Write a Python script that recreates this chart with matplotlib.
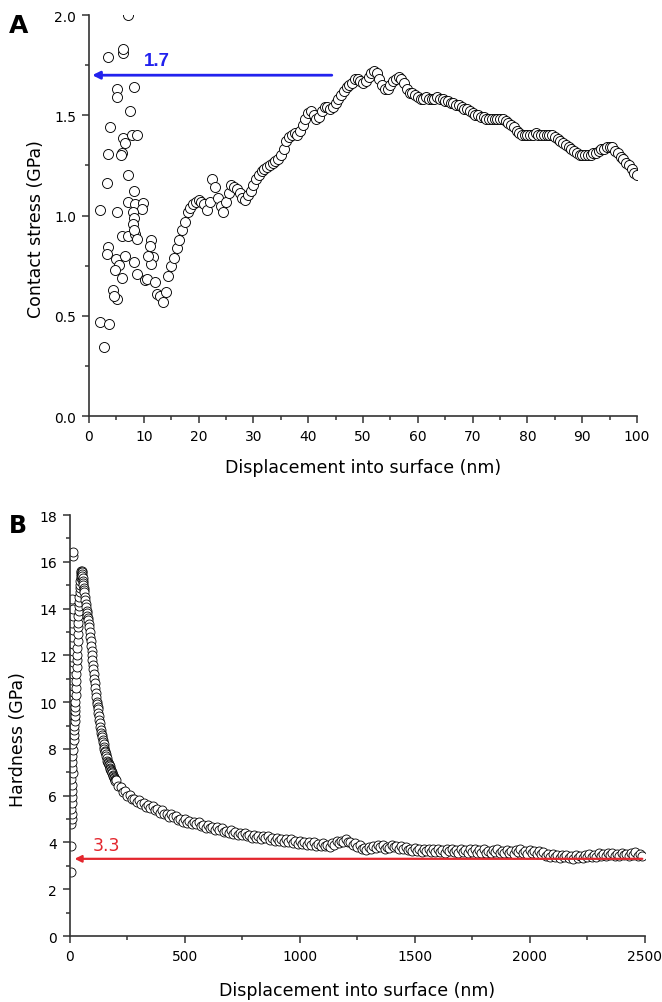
import numpy as np
import matplotlib
matplotlib.use('Agg')
import matplotlib.pyplot as plt
from matplotlib.ticker import MultipleLocator, FormatStrFormatter

plt.rcParams['font.family'] = ['DejaVu Sans']

# ---------------- Panel A data ----------------
# scattered early points (displacement nm, contact stress GPa)
a_scatter_x = [7.2, 3.5, 6.2, 6.2, 5.1, 5.1, 8.2, 7.5, 3.8, 6.2, 6.6, 7.8, 8.7, 3.5, 6.0, 5.9,
               7.2, 3.3, 8.2, 7.2, 8.4, 9.8, 9.6, 2.1, 5.05, 8.0, 8.2, 8.0, 8.2, 6.0, 7.1, 8.4,
               3.5, 3.2, 4.9, 5.4, 6.6, 8.2, 4.7, 6.0, 8.7, 10.2, 11.4, 11.1, 11.7, 11.4, 10.8,
               10.5, 12.0, 12.35, 4.4, 5.05, 4.5, 2.0, 3.7, 2.7, 8.3, 8.7]
a_scatter_y = [2.0, 1.79, 1.81, 1.83, 1.63, 1.59, 1.64, 1.52, 1.44, 1.385, 1.36, 1.40, 1.40, 1.305, 1.31, 1.30,
               1.20, 1.16, 1.12, 1.07, 1.06, 1.065, 1.035, 1.03, 1.02, 1.02, 0.99, 0.96, 0.92, 0.90, 0.90, 0.91,
               0.845, 0.81, 0.785, 0.755, 0.80, 0.77, 0.727, 0.69, 0.71, 0.68, 0.877, 0.85, 0.795, 0.76, 0.80,
               0.685, 0.67, 0.61, 0.627, 0.585, 0.60, 0.467, 0.46, 0.345, 0.93, 0.885]

# main curve, sampled every 0.5 nm from 13 to 100 nm
a_curve_x = np.arange(13.0, 100.01, 0.5)
a_curve_y = [
    0.60, 0.57, 0.62, 0.70, 0.75, 0.79, 0.84, 0.88, 0.93, 0.97,
    1.02, 1.04, 1.06, 1.07, 1.08, 1.07, 1.06, 1.03, 1.07, 1.18,
    1.14, 1.09, 1.05, 1.02, 1.07, 1.11, 1.15, 1.14, 1.13, 1.11,
    1.09, 1.08, 1.10, 1.12, 1.15, 1.18, 1.20, 1.22, 1.23, 1.24,
    1.25, 1.26, 1.27, 1.28, 1.30, 1.33, 1.37, 1.39, 1.40, 1.41,
    1.40, 1.42, 1.45, 1.48, 1.51, 1.52, 1.50, 1.48, 1.49, 1.52,
    1.54, 1.54, 1.53, 1.54, 1.56, 1.58, 1.60, 1.62, 1.64, 1.65,
    1.66, 1.68, 1.68, 1.67, 1.66, 1.67, 1.69, 1.71, 1.72, 1.71,
    1.68, 1.65, 1.63, 1.63, 1.65, 1.67, 1.68, 1.69, 1.68, 1.66,
    1.63, 1.61, 1.61, 1.60, 1.59, 1.58, 1.58, 1.59, 1.58, 1.58,
    1.58, 1.59, 1.58, 1.58, 1.57, 1.57, 1.56, 1.56, 1.55, 1.55,
    1.54, 1.53, 1.53, 1.52, 1.51, 1.50, 1.50, 1.49, 1.49, 1.48,
    1.48, 1.48, 1.48, 1.48, 1.48, 1.48, 1.47, 1.46, 1.45, 1.44,
    1.42, 1.41, 1.40, 1.40, 1.40, 1.40, 1.40, 1.41, 1.40, 1.40,
    1.40, 1.40, 1.40, 1.40, 1.39, 1.38, 1.37, 1.36, 1.35, 1.34,
    1.33, 1.32, 1.31, 1.30, 1.30, 1.30, 1.30, 1.30, 1.31, 1.31,
    1.32, 1.33, 1.33, 1.34, 1.34, 1.34, 1.32, 1.31, 1.29, 1.28,
    1.26, 1.25, 1.23, 1.21, 1.20,
]
a_arrow_value = 1.7
a_arrow_label = "1.7"

# ---------------- Panel B data ----------------
b_col_x = [4, 4, 6, 7, 8, 6, 9, 7, 10, 8, 6, 11, 9, 7, 10, 12, 8, 6, 11, 9, 13,
           7, 10, 12, 8, 14, 11, 9, 13, 10, 12, 8, 14, 11, 9, 13, 10, 12, 11, 10, 12, 12]
b_col_y = [2.75, 3.85, 4.8, 5.0, 5.2, 5.45, 5.7, 5.95, 6.2, 6.45, 6.7, 6.95, 7.2, 7.45, 7.7, 7.95,
           8.2, 8.45, 8.7, 8.95, 9.2, 9.45, 9.7, 9.95, 10.2, 10.45, 10.7, 10.95, 11.2, 11.45, 11.7,
           11.95, 12.2, 12.5, 12.8, 13.1, 13.4, 13.7, 14.0, 14.4, 16.25, 16.4]

b_rise_x = np.arange(16, 61, 1)
b_rise_y = [8.4, 8.6, 8.8, 9.0, 9.2, 9.4, 9.6, 9.8, 10.0, 10.3,
            10.6, 10.9, 11.2, 11.5, 11.8, 12.0, 12.3, 12.6, 12.9, 13.2,
            13.4, 13.7, 13.9, 14.1, 14.3, 14.5, 14.7, 14.9, 15.0, 15.2,
            15.3, 15.4, 15.5, 15.55, 15.6, 15.6, 15.55, 15.5, 15.4, 15.3,
            15.2, 15.1, 15.0, 14.9, 14.8]

b_decay_x = np.arange(62, 199, 2)
b_decay_y = [14.7, 14.5, 14.35, 14.2, 14.05, 13.9, 13.8, 13.7, 13.6, 13.5,
             13.35, 13.2, 13.0, 12.8, 12.6, 12.4, 12.2, 12.0, 11.8, 11.6,
             11.4, 11.2, 11.0, 10.8, 10.6, 10.4, 10.2, 10.0, 9.9, 9.8,
             9.7, 9.55, 9.4, 9.25, 9.1, 8.95, 8.8, 8.7, 8.6, 8.5,
             8.4, 8.3, 8.2, 8.1, 8.0, 7.9, 7.85, 7.8, 7.7, 7.6,
             7.5, 7.45, 7.4, 7.35, 7.3, 7.25, 7.2, 7.15, 7.1, 7.05,
             7.0, 6.95, 6.9, 6.85, 6.8, 6.75, 6.7, 6.68, 6.64]

b_tail_x = np.arange(200, 2500, 10)
b_tail_y = [
    6.67, 6.40, 6.38, 6.17, 6.18, 5.99, 6.03, 5.84, 5.87, 5.73,
    5.83, 5.65, 5.69, 5.52, 5.61, 5.49, 5.56, 5.38, 5.42, 5.28,
    5.37, 5.20, 5.23, 5.10, 5.21, 5.07, 5.13, 4.97, 5.02, 4.89,
    5.00, 4.85, 4.91, 4.77, 4.88, 4.77, 4.86, 4.70, 4.74, 4.63,
    4.75, 4.60, 4.65, 4.52, 4.64, 4.52, 4.60, 4.44, 4.50, 4.39,
    4.52, 4.38, 4.43, 4.30, 4.42, 4.32, 4.41, 4.26, 4.32, 4.21,
    4.34, 4.21, 4.28, 4.16, 4.28, 4.17, 4.27, 4.12, 4.18, 4.08,
    4.21, 4.07, 4.13, 4.01, 4.14, 4.04, 4.14, 3.99, 4.05, 3.95,
    4.07, 3.93, 4.00, 3.87, 4.00, 3.90, 4.00, 3.85, 3.92, 3.83,
    3.97, 3.84, 3.91, 3.80, 3.96, 3.91, 4.06, 3.97, 4.08, 4.01,
    4.15, 4.00, 4.03, 3.87, 3.96, 3.82, 3.88, 3.71, 3.77, 3.67,
    3.81, 3.71, 3.83, 3.75, 3.91, 3.82, 3.91, 3.74, 3.82, 3.75,
    3.91, 3.80, 3.86, 3.72, 3.84, 3.73, 3.82, 3.66, 3.72, 3.62,
    3.75, 3.63, 3.70, 3.58, 3.72, 3.62, 3.74, 3.61, 3.70, 3.60,
    3.73, 3.60, 3.67, 3.56, 3.71, 3.63, 3.74, 3.59, 3.66, 3.56,
    3.70, 3.59, 3.68, 3.57, 3.70, 3.60, 3.70, 3.57, 3.66, 3.57,
    3.70, 3.57, 3.64, 3.54, 3.69, 3.60, 3.70, 3.55, 3.62, 3.54,
    3.69, 3.57, 3.64, 3.52, 3.66, 3.58, 3.70, 3.55, 3.62, 3.52,
    3.67, 3.56, 3.63, 3.50, 3.62, 3.51, 3.60, 3.44, 3.50, 3.39,
    3.51, 3.38, 3.45, 3.34, 3.47, 3.37, 3.48, 3.33, 3.41, 3.31,
    3.45, 3.33, 3.42, 3.32, 3.47, 3.39, 3.51, 3.38, 3.47, 3.39,
    3.54, 3.43, 3.51, 3.41, 3.56, 3.47, 3.57, 3.42, 3.50, 3.42,
    3.57, 3.45, 3.52, 3.40, 3.54, 3.46, 3.58, 3.44, 3.51, 3.41,
]
b_arrow_value = 3.3
b_arrow_label = "3.3"

# ---------------- Figure ----------------
fig = plt.figure(figsize=(6.62, 10.03), dpi=100)

marker_kw = dict(linestyle='none', marker='o', mfc='white', mec='black')
spine_col = '#333333'


def style_axes(ax):
    for s in ['top', 'right']:
        ax.spines[s].set_visible(False)
    for s in ['left', 'bottom']:
        ax.spines[s].set_linewidth(1.2)
        ax.spines[s].set_color(spine_col)
    ax.tick_params(which='major', direction='out', length=4.8, width=1.1, labelsize=10,
                   color=spine_col, pad=4.5)
    ax.tick_params(which='minor', direction='out', length=2.8, width=1.1, color=spine_col)


# Panel A
axA = fig.add_axes([0.1344, 0.5842, 0.828, 0.3998])
axA.plot(a_scatter_x, a_scatter_y, ms=7.2, mew=0.65, **marker_kw)
axA.plot(a_curve_x, a_curve_y, ms=7.2, mew=0.65, **marker_kw)
axA.set_xlim(0, 100)
axA.set_ylim(0, 2.0)
axA.xaxis.set_major_locator(MultipleLocator(10))
axA.xaxis.set_minor_locator(MultipleLocator(5))
axA.yaxis.set_major_locator(MultipleLocator(0.5))
axA.yaxis.set_minor_locator(MultipleLocator(0.25))
axA.yaxis.set_major_formatter(FormatStrFormatter('%.1f'))
style_axes(axA)
axA.set_xlabel('Displacement into surface (nm)', fontsize=12.5)
axA.set_ylabel('Contact stress (GPa)', fontsize=12.5)
axA.yaxis.set_label_coords(-0.080, 0.47)
axA.xaxis.set_label_coords(0.5, -0.105)
axA.annotate('', xy=(0.6, a_arrow_value), xytext=(44.3, a_arrow_value),
             arrowprops=dict(arrowstyle='-|>', color='#2222ee', lw=2.0,
                             mutation_scale=11, shrinkA=0, shrinkB=0))
axA.text(12.4, 1.775, a_arrow_label, color='#2222ee', fontsize=13.5, fontweight='bold',
         ha='center', va='center', family=['Liberation Sans', 'DejaVu Sans'])
fig.text(0.014, 0.986, 'A', fontsize=18, fontweight='bold', ha='left', va='top')

# Panel B
axB = fig.add_axes([0.1057, 0.0658, 0.868, 0.4197])
axB.plot(b_col_x, b_col_y, ms=6.5, mew=0.6, **marker_kw)
axB.plot(b_rise_x, b_rise_y, ms=6.5, mew=0.6, **marker_kw)
axB.plot(b_decay_x, b_decay_y, ms=6.5, mew=0.6, **marker_kw)
axB.plot(b_tail_x, b_tail_y, ms=6.5, mew=0.6, **marker_kw)
axB.set_xlim(0, 2500)
axB.set_ylim(0, 18)
axB.xaxis.set_major_locator(MultipleLocator(500))
axB.xaxis.set_minor_locator(MultipleLocator(250))
axB.yaxis.set_major_locator(MultipleLocator(2))
axB.yaxis.set_minor_locator(MultipleLocator(1))
style_axes(axB)
axB.set_xlabel('Displacement into surface (nm)', fontsize=12.5)
axB.set_ylabel('Hardness (GPa)', fontsize=12.5)
axB.yaxis.set_label_coords(-0.075, 0.468)
axB.xaxis.set_label_coords(0.5, -0.108)
axB.annotate('', xy=(20, b_arrow_value), xytext=(2490, b_arrow_value),
             arrowprops=dict(arrowstyle='-|>', color='#e3262d', lw=1.6,
                             mutation_scale=10, shrinkA=0, shrinkB=0))
axB.text(160, 3.9, b_arrow_label, color='#e3262d', fontsize=12.5, ha='center', va='center')
fig.text(0.014, 0.488, 'B', fontsize=17, fontweight='bold', ha='left', va='top')

fig.savefig('out.png', dpi=100)
